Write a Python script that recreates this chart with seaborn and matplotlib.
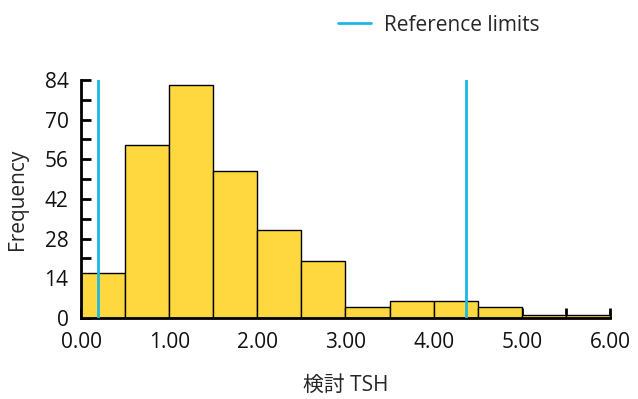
import matplotlib
import matplotlib.pyplot as plt
import numpy as np
import pandas as pd
import seaborn as sns
from matplotlib.ticker import MultipleLocator

matplotlib.use("Agg")

# Данные гистограммы (ширина интервала 0.5)
bin_edges = [0.0, 0.5, 1.0, 1.5, 2.0, 2.5, 3.0, 3.5, 4.0, 4.5, 5.0, 5.5, 6.0]
counts = [16, 61, 82, 52, 31, 20, 4, 6, 6, 4, 1, 1]
ref_limits = [0.19, 4.37]
y_ticks = [0, 14, 28, 42, 56, 70, 84]
x_ticks = [0, 1, 2, 3, 4, 5, 6]

centers = [(a + b) / 2 for a, b in zip(bin_edges[:-1], bin_edges[1:])]
df = pd.DataFrame({"tsh": centers, "n": counts})

sns.set_theme(style="ticks")
plt.rcParams["font.family"] = ["Open Sans", "Noto Sans CJK JP", "DejaVu Sans"]

fig = plt.figure(figsize=(6.38, 3.99), dpi=100)
ax = fig.add_axes([0.127, 0.203, 0.829, 0.597])

sns.histplot(data=df, x="tsh", weights="n", bins=bin_edges, ax=ax,
             color="#FFD83F", alpha=1, edgecolor="black", linewidth=1)

for v in ref_limits:
    ax.axvline(v, color="#1BB8E3", linewidth=2, zorder=5,
               label="Reference limits" if v == ref_limits[0] else None)

ax.set_xlim(0, 6)
ax.set_ylim(0, 84)
ax.set_yticks(y_ticks)
ax.set_xticks(x_ticks)
ax.set_xticklabels([f"{v:.2f}" for v in x_ticks])
ax.xaxis.set_minor_locator(MultipleLocator(0.5))
ax.yaxis.set_minor_locator(MultipleLocator(7))
ax.tick_params(axis="both", which="both", direction="in", width=2,
               length=7, color="black", labelsize=15, labelcolor="#111111")
ax.tick_params(axis="x", pad=10)
ax.tick_params(axis="y", pad=9)
for s in ("top", "right"):
    ax.spines[s].set_visible(False)
for s in ("left", "bottom"):
    ax.spines[s].set_linewidth(2)
    ax.spines[s].set_color("black")

ax.set_xlabel("検討 TSH", fontsize=15, labelpad=16)
ax.set_ylabel("Frequency", fontsize=15, labelpad=12)

fig.legend(loc="upper right", bbox_to_anchor=(0.875, 1.01), frameon=False,
           fontsize=15, handlelength=1.6, handletextpad=0.6)

plt.savefig("out.png", dpi=100)
plt.close()
